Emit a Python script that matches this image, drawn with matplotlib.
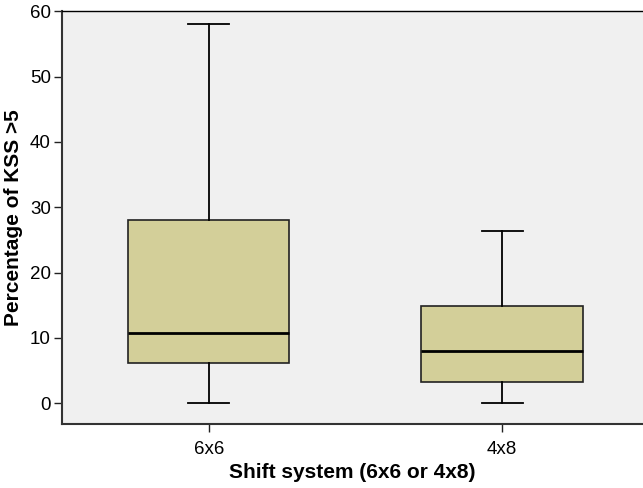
import matplotlib
matplotlib.use("Agg")
import matplotlib.pyplot as plt

plt.rcParams["font.family"] = ["Liberation Sans", "DejaVu Sans"]

# box plot summary values
groups = ["6x6", "4x8"]
whisker_low = [0.0, 0.0]
q1 = [6.2, 3.3]
median = [10.7, 8.0]
q3 = [28.0, 14.8]
whisker_high = [58.0, 26.3]

stats = [dict(label=g, whislo=lo, q1=a, med=m, q3=b, whishi=hi, fliers=[])
         for g, lo, a, m, b, hi in zip(groups, whisker_low, q1, median, q3, whisker_high)]

fig = plt.figure(figsize=(6.43, 4.88), dpi=100)
ax = fig.add_axes([0.0964, 0.131, 0.9036, 0.846])
ax.set_facecolor("#f0f0f0")

ax.bxp(stats, positions=[1, 2], widths=0.55, patch_artist=True, showfliers=False,
       boxprops=dict(facecolor="#d3cf99", edgecolor="#222222", linewidth=1.2),
       medianprops=dict(color="black", linewidth=2),
       whiskerprops=dict(color="black", linewidth=1.3),
       capprops=dict(color="black", linewidth=1.3),
       capwidths=0.14)

ax.set_xlim(0.5, 2.48)
ax.set_ylim(-3.2, 60)
ax.set_yticks([0, 10, 20, 30, 40, 50, 60])
ax.set_xticks([1, 2])
ax.set_xticklabels(groups)

ax.spines["right"].set_visible(False)
ax.spines["top"].set_color("black")
ax.spines["top"].set_linewidth(1.0)
for s in ["left", "bottom"]:
    ax.spines[s].set_color("#333333")
    ax.spines[s].set_linewidth(1.5)

ax.tick_params(axis="both", direction="out", length=6, width=1, colors="#222222",
               labelsize=13.5, labelcolor="black")
ax.tick_params(axis="y", pad=2)
ax.tick_params(axis="x", pad=6)

ax.set_xlabel("Shift system (6x6 or 4x8)", fontsize=15, fontweight="bold", labelpad=4)
ax.set_ylabel("Percentage of KSS >5", fontsize=15, fontweight="bold", labelpad=5)

fig.savefig("out.png", dpi=100, facecolor="white")
